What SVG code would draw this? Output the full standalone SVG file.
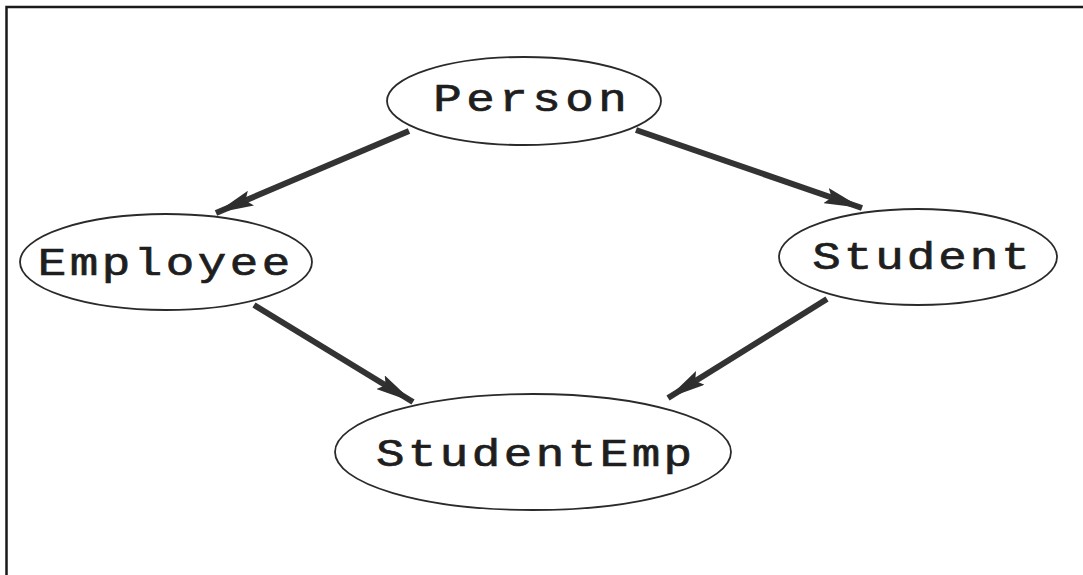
<svg xmlns="http://www.w3.org/2000/svg" width="1083" height="575" viewBox="0 0 1083 575">
  <style>
    .node ellipse { fill: #ffffff; stroke: #2a2a2a; stroke-width: 1.8; }
    .node text { font-family: "Liberation Mono", "Courier New", monospace; font-size: 38px; fill: #1e1e1e; stroke: #1e1e1e; stroke-width: 0.7; text-anchor: middle; }
    .edge { stroke: #333333; stroke-width: 6; fill: none; marker-end: url(#head); }
  </style>
  <defs>
    <marker id="head" markerUnits="userSpaceOnUse" viewBox="0 0 38 16" refX="38" refY="8" markerWidth="38" markerHeight="16" orient="auto">
      <path d="M0,0 L38,8 L0,16 L6,8 Z" fill="#2e2e2e"/>
    </marker>
  </defs>
  <rect width="1083" height="575" fill="#ffffff"/>
  <!-- page frame: top and left rules -->
  <path d="M6.5,575 V7 H1083" fill="none" stroke="#1a1a1a" stroke-width="2.5"/>

  <g id="connectors">
    <line class="edge" x1="409" y1="131" x2="216" y2="213"/>
    <line class="edge" x1="636" y1="130" x2="862" y2="208"/>
    <line class="edge" x1="254" y1="305" x2="413" y2="402"/>
    <line class="edge" x1="827" y1="299" x2="668" y2="398"/>
  </g>

  <!-- labels are widened horizontally to give the broad typewriter look -->
  <g id="person" class="node">
    <ellipse cx="524" cy="101" rx="137" ry="44"/>
    <text transform="translate(530,111) scale(1.25,1)" textLength="155" lengthAdjust="spacing">Person</text>
  </g>
  <g id="employee" class="node">
    <ellipse cx="166" cy="262" rx="146" ry="48"/>
    <text transform="translate(164,275) scale(1.25,1)" textLength="202" lengthAdjust="spacing">Employee</text>
  </g>
  <g id="student" class="node">
    <ellipse cx="918" cy="257" rx="139" ry="48"/>
    <text transform="translate(921,269) scale(1.25,1)" textLength="174" lengthAdjust="spacing">Student</text>
  </g>
  <g id="studentemp" class="node">
    <ellipse cx="533" cy="452" rx="198" ry="58"/>
    <text transform="translate(534,466) scale(1.25,1)" textLength="253" lengthAdjust="spacing">StudentEmp</text>
  </g>
</svg>
